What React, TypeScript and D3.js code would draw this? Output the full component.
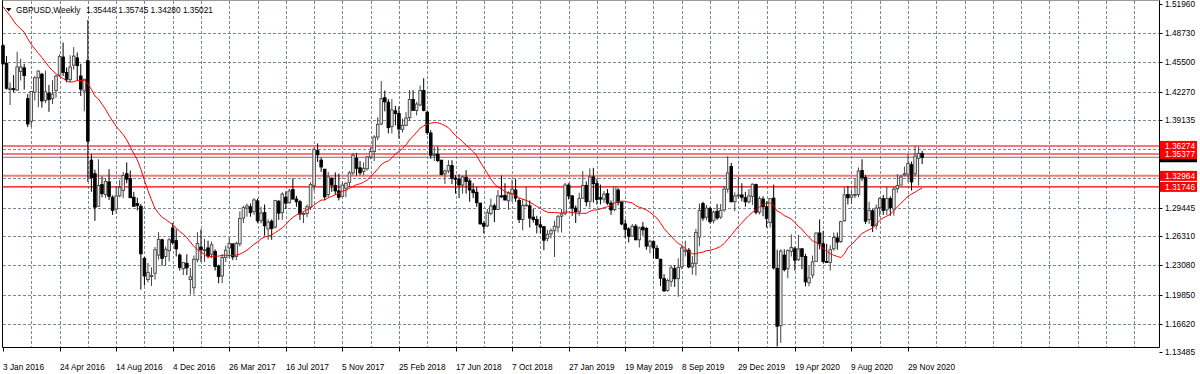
import React from "react";
import * as d3 from "d3";

const W = 1200;
const H = 374;

const symbolTitle = "GBPUSD,Weekly";
const lastBarText = "1.35448 1.35745 1.34280 1.35021";
const lastClose = 1.35021;

// price scale labels (right axis)
const priceTicks = [1.5196, 1.4873, 1.455, 1.4227, 1.39135, 1.35905, 1.32675, 1.29445, 1.2631, 1.2308, 1.1985, 1.1662, 1.13485];
// horizontal line objects
const levelLines = [1.36274, 1.35377, 1.32964];
const supportLine = 1.31746;

// time axis labels, one every 16 weeks
const dateLabels = [
  "3 Jan 2016", "24 Apr 2016", "14 Aug 2016", "4 Dec 2016", "26 Mar 2017", "16 Jul 2017",
  "5 Nov 2017", "25 Feb 2018", "17 Jun 2018", "7 Oct 2018", "27 Jan 2019", "19 May 2019",
  "8 Sep 2019", "29 Dec 2019", "19 Apr 2020", "9 Aug 2020", "29 Nov 2020",
];

const maPeriod = 20;
// weekly closes before the first visible bar (for the moving average)
const closes2015 = [
  1.538, 1.5185, 1.543, 1.553, 1.5195, 1.518, 1.5325, 1.545, 1.5395, 1.5425,
  1.505, 1.5235, 1.519, 1.5015, 1.512, 1.5215, 1.489, 1.4905, 1.474,
];

// weekly bars [open, high, low, close]
const bars2016 = [
  [1.4735, 1.475, 1.4525, 1.4535], [1.454, 1.462, 1.425, 1.4265], [1.425, 1.433, 1.408, 1.4265],
  [1.426, 1.441, 1.422, 1.425], [1.4245, 1.4668, 1.4235, 1.45], [1.445, 1.459, 1.435, 1.45],
  [1.449, 1.4535, 1.425, 1.4405], [1.415, 1.42, 1.3835, 1.387], [1.39, 1.423, 1.3835, 1.423],
  [1.422, 1.44, 1.413, 1.438], [1.438, 1.446, 1.4055, 1.4455], [1.442, 1.4435, 1.405, 1.4125],
  [1.413, 1.446, 1.41, 1.4225], [1.421, 1.43, 1.4005, 1.414], [1.415, 1.4355, 1.409, 1.42],
  [1.424, 1.441, 1.416, 1.44], [1.441, 1.464, 1.439, 1.4615], [1.461, 1.477, 1.44, 1.444],
  [1.444, 1.4495, 1.433, 1.4365], [1.436, 1.463, 1.433, 1.45], [1.452, 1.472, 1.447, 1.462],
  [1.46, 1.466, 1.435, 1.4515], [1.44, 1.4535, 1.418, 1.4255], [1.4235, 1.435, 1.401, 1.4365],
  [1.457, 1.5018, 1.323, 1.368], [1.347, 1.3535, 1.312, 1.3275], [1.332, 1.3365, 1.28, 1.295],
  [1.296, 1.348, 1.296, 1.319], [1.32, 1.329, 1.306, 1.31], [1.309, 1.327, 1.3055, 1.3235],
  [1.323, 1.337, 1.303, 1.307], [1.306, 1.308, 1.2865, 1.2915], [1.293, 1.3185, 1.288, 1.3075],
  [1.3075, 1.325, 1.306, 1.317], [1.3135, 1.334, 1.305, 1.33], [1.332, 1.3445, 1.3215, 1.326],
  [1.3265, 1.3355, 1.306, 1.3055], [1.306, 1.312, 1.296, 1.296], [1.299, 1.3055, 1.2915, 1.297],
  [1.296, 1.2985, 1.204, 1.2435], [1.2385, 1.24, 1.2085, 1.219], [1.215, 1.2335, 1.212, 1.223],
  [1.2195, 1.2285, 1.208, 1.2195], [1.222, 1.251, 1.215, 1.248], [1.242, 1.2675, 1.237, 1.2595],
  [1.259, 1.26, 1.2305, 1.2385], [1.2405, 1.2515, 1.23, 1.2485], [1.247, 1.261, 1.235, 1.259],
  [1.272, 1.2775, 1.2535, 1.256], [1.258, 1.2705, 1.2405, 1.249], [1.242, 1.244, 1.225, 1.2285],
  [1.227, 1.234, 1.22, 1.234],
];
const bars2017 = [
  [1.233, 1.243, 1.22, 1.228], [1.215, 1.228, 1.1985, 1.218], [1.206, 1.2415, 1.1985, 1.2375],
  [1.237, 1.2675, 1.234, 1.255], [1.251, 1.2705, 1.2345, 1.248], [1.247, 1.26, 1.2345, 1.248],
  [1.25, 1.258, 1.2385, 1.241], [1.243, 1.257, 1.2385, 1.2535], [1.246, 1.2485, 1.225, 1.2295],
  [1.23, 1.2315, 1.211, 1.2185], [1.219, 1.243, 1.211, 1.2395], [1.2395, 1.2525, 1.2345, 1.2475],
  [1.25, 1.2615, 1.2385, 1.255], [1.2545, 1.2545, 1.2365, 1.24], [1.2405, 1.257, 1.2365, 1.255],
  [1.2545, 1.2905, 1.2515, 1.2825], [1.283, 1.2965, 1.2775, 1.2945], [1.294, 1.299, 1.2845, 1.2965],
  [1.2955, 1.299, 1.2845, 1.289], [1.29, 1.305, 1.2865, 1.303], [1.302, 1.3045, 1.2775, 1.28],
  [1.28, 1.2955, 1.277, 1.2885], [1.289, 1.298, 1.2635, 1.2745], [1.271, 1.2815, 1.259, 1.2785],
  [1.2795, 1.2815, 1.259, 1.2715], [1.273, 1.303, 1.2715, 1.3025], [1.3015, 1.303, 1.281, 1.2885],
  [1.289, 1.3115, 1.281, 1.3095], [1.306, 1.3125, 1.293, 1.2995], [1.3, 1.3155, 1.299, 1.313],
  [1.3145, 1.327, 1.3035, 1.304], [1.304, 1.3075, 1.2955, 1.301], [1.301, 1.303, 1.281, 1.2875],
  [1.288, 1.2895, 1.2775, 1.288], [1.288, 1.298, 1.284, 1.2955], [1.295, 1.3225, 1.292, 1.32],
  [1.319, 1.3615, 1.313, 1.359], [1.3575, 1.3655, 1.345, 1.353], [1.347, 1.35, 1.334, 1.3395],
  [1.337, 1.337, 1.303, 1.3065], [1.309, 1.334, 1.306, 1.3285], [1.327, 1.328, 1.312, 1.3195],
  [1.319, 1.3335, 1.3085, 1.313], [1.313, 1.332, 1.3025, 1.306], [1.307, 1.3225, 1.306, 1.3195],
  [1.316, 1.3225, 1.306, 1.3215], [1.3225, 1.335, 1.317, 1.333], [1.333, 1.355, 1.3305, 1.3525],
  [1.349, 1.355, 1.33, 1.338], [1.3385, 1.346, 1.3305, 1.333], [1.3345, 1.3445, 1.3305, 1.338],
  [1.3375, 1.3515, 1.3355, 1.3505],
];
const bars2018 = [
  [1.3505, 1.3615, 1.348, 1.3565], [1.3565, 1.3745, 1.346, 1.3725], [1.3725, 1.3945, 1.369, 1.3865],
  [1.387, 1.4345, 1.386, 1.415], [1.416, 1.424, 1.401, 1.4115], [1.411, 1.4145, 1.3765, 1.383],
  [1.384, 1.4145, 1.3765, 1.4025], [1.4015, 1.407, 1.3855, 1.3985], [1.3985, 1.4065, 1.371, 1.3815],
  [1.381, 1.393, 1.3775, 1.3855], [1.3855, 1.4, 1.3845, 1.3935], [1.394, 1.4245, 1.3905, 1.414],
  [1.414, 1.4245, 1.4025, 1.402], [1.402, 1.4115, 1.3965, 1.409], [1.408, 1.4295, 1.4065, 1.424],
  [1.424, 1.4375, 1.401, 1.402], [1.4, 1.402, 1.375, 1.3775], [1.377, 1.38, 1.3485, 1.3525],
  [1.3525, 1.3615, 1.346, 1.3535], [1.3535, 1.362, 1.345, 1.3465], [1.347, 1.347, 1.3305, 1.331],
  [1.332, 1.3365, 1.3205, 1.335], [1.335, 1.347, 1.3325, 1.341], [1.341, 1.347, 1.3205, 1.327],
  [1.327, 1.3305, 1.31, 1.326], [1.326, 1.3315, 1.305, 1.3195], [1.3195, 1.33, 1.31, 1.3285],
  [1.328, 1.336, 1.31, 1.3235], [1.324, 1.326, 1.301, 1.314], [1.314, 1.3215, 1.305, 1.311],
  [1.3115, 1.3175, 1.2955, 1.3], [1.2995, 1.3, 1.276, 1.2765], [1.277, 1.2795, 1.266, 1.274],
  [1.2745, 1.293, 1.273, 1.289], [1.288, 1.3045, 1.286, 1.2965], [1.2965, 1.299, 1.2785, 1.2925],
  [1.2925, 1.314, 1.292, 1.3075], [1.3075, 1.33, 1.3055, 1.307], [1.308, 1.3215, 1.3025, 1.303],
  [1.302, 1.3125, 1.292, 1.311], [1.3095, 1.3255, 1.301, 1.315], [1.314, 1.326, 1.301, 1.305],
  [1.3025, 1.305, 1.2775, 1.2815], [1.2815, 1.304, 1.2695, 1.297], [1.2965, 1.3175, 1.296, 1.2975],
  [1.2965, 1.3025, 1.2725, 1.283], [1.284, 1.293, 1.278, 1.2815], [1.2815, 1.2855, 1.266, 1.2755],
  [1.2755, 1.284, 1.266, 1.273], [1.2735, 1.274, 1.2475, 1.2585], [1.2605, 1.27, 1.257, 1.265],
  [1.2655, 1.2715, 1.2605, 1.269],
];
const bars2019 = [
  [1.269, 1.28, 1.24, 1.274], [1.273, 1.2865, 1.267, 1.2845], [1.285, 1.293, 1.267, 1.2875],
  [1.288, 1.322, 1.286, 1.3195], [1.3195, 1.3215, 1.3035, 1.3075], [1.3075, 1.3085, 1.2855, 1.294],
  [1.294, 1.297, 1.2775, 1.29], [1.29, 1.311, 1.2855, 1.3045], [1.305, 1.335, 1.3045, 1.319],
  [1.319, 1.3235, 1.296, 1.301], [1.3015, 1.338, 1.2945, 1.3285], [1.3285, 1.3385, 1.3, 1.321],
  [1.321, 1.3265, 1.298, 1.3035], [1.3055, 1.32, 1.298, 1.304], [1.304, 1.313, 1.3, 1.3095],
  [1.31, 1.315, 1.2975, 1.2995], [1.2995, 1.3025, 1.2865, 1.292], [1.2925, 1.3175, 1.2905, 1.3175],
  [1.314, 1.316, 1.297, 1.3005], [1.3005, 1.3015, 1.275, 1.2765], [1.2765, 1.2815, 1.261, 1.2705],
  [1.271, 1.273, 1.256, 1.263], [1.263, 1.2765, 1.2625, 1.274], [1.274, 1.2765, 1.2585, 1.259],
  [1.259, 1.2735, 1.2505, 1.272], [1.273, 1.2785, 1.2635, 1.27], [1.2715, 1.273, 1.248, 1.252],
  [1.252, 1.259, 1.244, 1.2575], [1.257, 1.2585, 1.2385, 1.25], [1.2495, 1.253, 1.238, 1.2385],
  [1.2375, 1.238, 1.208, 1.2165], [1.216, 1.221, 1.2015, 1.2025], [1.203, 1.216, 1.2015, 1.214],
  [1.213, 1.231, 1.207, 1.228], [1.227, 1.231, 1.207, 1.216], [1.216, 1.2385, 1.196, 1.2285],
  [1.229, 1.253, 1.2265, 1.25], [1.246, 1.258, 1.2405, 1.2475], [1.2475, 1.25, 1.2275, 1.229],
  [1.229, 1.241, 1.2205, 1.233], [1.233, 1.271, 1.2195, 1.267], [1.262, 1.299, 1.252, 1.2915],
  [1.299, 1.301, 1.28, 1.283], [1.284, 1.2975, 1.2805, 1.294], [1.2935, 1.2955, 1.277, 1.279],
  [1.28, 1.2915, 1.277, 1.2895], [1.2905, 1.2985, 1.281, 1.283], [1.284, 1.2985, 1.282, 1.2915],
  [1.292, 1.3185, 1.29, 1.315], [1.315, 1.3515, 1.311, 1.333], [1.34, 1.344, 1.3005, 1.301],
  [1.301, 1.3115, 1.2905, 1.3075],
];
const bars2020 = [
  [1.308, 1.3285, 1.3045, 1.3085], [1.3085, 1.3215, 1.3015, 1.306], [1.3055, 1.312, 1.2955, 1.301],
  [1.301, 1.315, 1.299, 1.3075], [1.307, 1.321, 1.2975, 1.3205], [1.32, 1.321, 1.287, 1.2895],
  [1.2895, 1.307, 1.287, 1.3045], [1.304, 1.307, 1.285, 1.2955], [1.2955, 1.3015, 1.2725, 1.2825],
  [1.278, 1.3045, 1.2725, 1.3045], [1.305, 1.32, 1.226, 1.228], [1.2275, 1.248, 1.141, 1.1635],
  [1.164, 1.2485, 1.145, 1.2465], [1.242, 1.2485, 1.224, 1.226], [1.227, 1.2485, 1.2165, 1.247],
  [1.246, 1.265, 1.2405, 1.2505], [1.249, 1.2515, 1.225, 1.2365], [1.237, 1.2645, 1.2355, 1.249],
  [1.249, 1.25, 1.2265, 1.2405], [1.2405, 1.2435, 1.2075, 1.2125], [1.2115, 1.23, 1.2075, 1.217],
  [1.22, 1.2415, 1.2165, 1.2345], [1.235, 1.267, 1.236, 1.2665], [1.2665, 1.2815, 1.2485, 1.2545],
  [1.2545, 1.269, 1.233, 1.235], [1.235, 1.2545, 1.2335, 1.234], [1.234, 1.253, 1.225, 1.248],
  [1.249, 1.267, 1.247, 1.2615], [1.261, 1.267, 1.248, 1.2565], [1.257, 1.28, 1.2555, 1.279],
  [1.28, 1.317, 1.279, 1.3085], [1.309, 1.3185, 1.298, 1.3055], [1.306, 1.3145, 1.2985, 1.3085],
  [1.3085, 1.3265, 1.305, 1.309], [1.309, 1.339, 1.306, 1.335], [1.3355, 1.348, 1.324, 1.3275],
  [1.328, 1.3305, 1.2765, 1.2795], [1.2815, 1.301, 1.2765, 1.2915], [1.291, 1.2935, 1.2675, 1.2745],
  [1.275, 1.298, 1.2705, 1.294], [1.2945, 1.306, 1.2845, 1.3045], [1.3045, 1.3085, 1.2865, 1.2915],
  [1.292, 1.3175, 1.2865, 1.3045], [1.3045, 1.307, 1.2855, 1.2945], [1.293, 1.3175, 1.2855, 1.315],
  [1.3155, 1.3315, 1.311, 1.319], [1.3195, 1.331, 1.3195, 1.3285], [1.3305, 1.34, 1.329, 1.332],
  [1.3315, 1.354, 1.3225, 1.3435], [1.342, 1.3455, 1.3135, 1.323], [1.332, 1.3625, 1.329, 1.3515],
  [1.349, 1.362, 1.319, 1.3545], [1.35448, 1.35745, 1.3428, 1.35021],
];

const FONT = "'Liberation Sans', Arial, sans-serif";
const FS = 8.3;

export default function App() {
  const bars = [...bars2016, ...bars2017, ...bars2018, ...bars2019, ...bars2020];
  const plotR = 1159.5;
  const plotB = 347.5;

  const x = d3.scaleLinear().domain([0, 256]).range([3, 908]);
  const y = d3.scaleLinear().domain([1.13485, 1.5196]).range([352.1, 4]);

  const closes = closes2015.concat(bars.map((b) => b[3]));
  const ma = bars.map((_, i) => d3.mean(closes.slice(i, i + maPeriod)) as number);
  const maPath = d3
    .line<number>()
    .x((_, i) => x(i))
    .y((d) => y(d))(ma);

  const gridX = d3.range(0, 41).map((k) => x(k * 8)).filter((v) => v < plotR - 2);
  const dashColor = "#778899";
  const flagged = [...levelLines, supportLine, lastClose];
  // axis labels that sit under a line label are covered in the reference
  const covered = (p: number) => flagged.some((q) => Math.abs(y(q) - y(p)) < 9);

  return (
    <svg
      width={W}
      height={H}
      style={{ position: "absolute", left: 0, top: 0, background: "#fff" }}
      fontFamily={FONT}
      fontSize={FS}
    >
      {/* grid */}
      <g stroke={dashColor} strokeWidth={1} strokeDasharray="3,2">
        {gridX.slice(1).map((gx, i) => (
          <line key={"gx" + i} x1={Math.round(gx) + 0.5} x2={Math.round(gx) + 0.5} y1={1} y2={plotB} />
        ))}
        {priceTicks.slice(1, -1).map((p, i) => (
          <line key={"gy" + i} x1={3} x2={plotR} y1={Math.round(y(p)) + 0.5} y2={Math.round(y(p)) + 0.5} />
        ))}
      </g>

      {/* horizontal line objects */}
      {levelLines.map((p, i) => (
        <line key={"lv" + i} x1={3} x2={plotR} y1={y(p)} y2={y(p)} stroke="#f27a7a" strokeWidth={2} />
      ))}
      <line x1={3} x2={plotR} y1={y(supportLine)} y2={y(supportLine)} stroke="#e80000" strokeWidth={1.2} />
      <line x1={3} x2={plotR} y1={y(lastClose)} y2={y(lastClose)} stroke="#707070" strokeWidth={1} />

      {/* candles */}
      <g>
        {bars.map((b, i) => {
          const [o, h, l, c] = b;
          const cx = x(i);
          const up = c >= o;
          const top = y(Math.max(o, c));
          const hgt = Math.max(1, Math.abs(y(o) - y(c)));
          return (
            <g key={"b" + i}>
              <line x1={cx} x2={cx} y1={y(h)} y2={y(l)} stroke={up ? "#444" : "#000"} strokeWidth={1} />
              <rect
                x={cx - 1.3}
                y={top}
                width={2.6}
                height={hgt}
                fill={up ? "#e6e6e6" : "#000"}
                stroke={up ? "#444" : "#000"}
                strokeWidth={0.9}
              />
            </g>
          );
        })}
      </g>

      {/* moving average */}
      <path d={maPath || ""} fill="none" stroke="#ff0000" strokeWidth={1} />

      {/* frame */}
      <g stroke="#000" strokeWidth={1} fill="none">
        <line x1={2.5} x2={2.5} y1={0} y2={plotB} />
        <line x1={plotR} x2={plotR} y1={0} y2={plotB} />
        <line x1={2.5} x2={plotR} y1={plotB} y2={plotB} />
        <line x1={2.5} x2={plotR} y1={0.5} y2={0.5} stroke="#999" />
      </g>

      {/* header */}
      <path d="M6,8 L11.5,8 L8.75,11.5 Z" fill="#000" />
      <text x={16} y={13} fill="#000">{symbolTitle}</text>
      <text x={86} y={13} fill="#000">{lastBarText}</text>

      {/* price axis */}
      {priceTicks.map((p, i) => (
        <g key={"pt" + i}>
          <line x1={plotR} x2={plotR + 3} y1={Math.round(y(p)) + 0.5} y2={Math.round(y(p)) + 0.5} stroke="#000" />
          {!covered(p) && (
            <text x={1165} y={y(p) + 3} fill="#000">
              {p.toFixed(5)}
            </text>
          )}
        </g>
      ))}

      {/* current price label, mostly hidden under the level labels */}
      <rect x={1160} y={y(lastClose) - 4} width={37} height={9} fill="#000" />

      {/* level labels */}
      {[...levelLines, supportLine].map((p, i) => (
        <g key={"ll" + i}>
          <rect x={1160} y={y(p) - 5} width={37} height={10} fill="#ff0000" />
          <text x={1165} y={y(p) + 3} fill="#fff">{p.toFixed(5)}</text>
        </g>
      ))}

      {/* time axis */}
      {dateLabels.map((d, k) => {
        const tx = Math.round(x(k * 16)) + 0.5;
        return (
          <g key={"dt" + k}>
            <line x1={tx} x2={tx} y1={plotB} y2={plotB + 4} stroke="#000" />
            <text x={tx - 0.5} y={369.5} fill="#000">{d}</text>
          </g>
        );
      })}
    </svg>
  );
}
